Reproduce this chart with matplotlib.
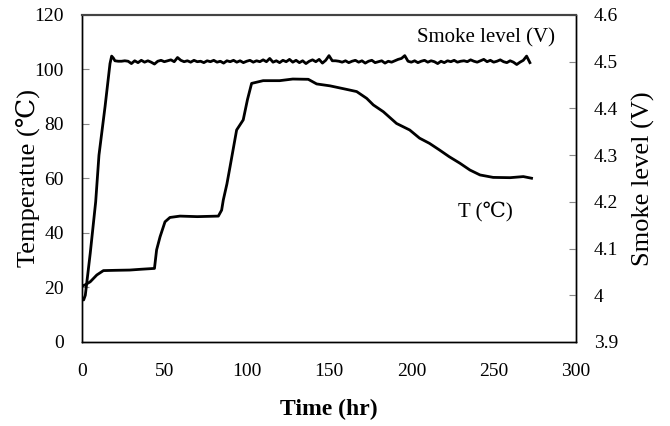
import matplotlib
matplotlib.use("Agg")
import matplotlib.pyplot as plt

# ---- data ----
temp_hr = [0, 2, 5, 9, 13, 20, 29, 36, 44, 45.3, 47.4, 50.4, 53.4, 59.5, 70, 82.8,
           84.8, 85.8, 88, 89.9, 93.9, 97.9, 100.5, 103, 110, 120, 128, 137.4, 142.5,
           150.6, 160.7, 166.8, 172.9, 176.9, 183, 191, 199, 205, 211, 217, 223,
           229.5, 235.6, 241.7, 249.7, 260, 268, 273]
temp_c = [20.5, 21.0, 22.1, 24.6, 26.2, 26.3, 26.4, 26.7, 27.0, 33.8, 38.6, 44.1, 45.7,
          46.2, 46.0, 46.2, 48.4, 52.1, 58.0, 64.3, 77.8, 81.5, 89.0, 94.9, 95.9, 95.9,
          96.5, 96.4, 94.7, 94.0, 92.7, 91.9, 89.4, 87.0, 84.5, 80.2, 77.8, 74.8, 72.9,
          70.5, 68.0, 65.6, 63.1, 61.3, 60.4, 60.3, 60.7, 60.1]

smoke_hr_rise = [0, 1, 2, 5, 8.3, 10.3, 14, 17, 18, 19]
smoke_v_rise = [3.995, 3.99, 4.0, 4.09, 4.20, 4.30, 4.404, 4.496, 4.512, 4.508]
smoke_hr_flat = list(range(20, 273, 2))
smoke_v_flat = [
    4.502, 4.501, 4.501, 4.502, 4.501, 4.496, 4.502, 4.498, 4.503, 4.499,
    4.502, 4.499, 4.495, 4.501, 4.503, 4.500, 4.502, 4.504, 4.500, 4.509,
    4.503, 4.500, 4.502, 4.499, 4.503, 4.500, 4.501, 4.498, 4.502, 4.500,
    4.503, 4.499, 4.501, 4.497, 4.502, 4.500, 4.503, 4.499, 4.502, 4.498,
    4.501, 4.503, 4.499, 4.502, 4.500, 4.504, 4.500, 4.507, 4.499, 4.502,
    4.498, 4.503, 4.500, 4.505, 4.499, 4.503, 4.498, 4.502, 4.496, 4.501,
    4.504, 4.500, 4.505, 4.497, 4.503, 4.513, 4.502, 4.502, 4.501, 4.499,
    4.502, 4.498, 4.501, 4.503, 4.499, 4.502, 4.497, 4.501, 4.503, 4.498,
    4.500, 4.502, 4.497, 4.501, 4.499, 4.502, 4.505, 4.507, 4.513, 4.501,
    4.499, 4.502, 4.498, 4.501, 4.503, 4.499, 4.502, 4.500, 4.496, 4.501,
    4.498, 4.502, 4.500, 4.503, 4.499, 4.501, 4.502, 4.500, 4.504, 4.501,
    4.499, 4.502, 4.505, 4.500, 4.503, 4.499, 4.501, 4.504, 4.500, 4.498,
    4.502, 4.499, 4.494, 4.499, 4.503, 4.512, 4.498,
]
smoke_hr = smoke_hr_rise + smoke_hr_flat
smoke_v = smoke_v_rise + smoke_v_flat

x_ticks = [0, 50, 100, 150, 200, 250, 300]
t_ticks = [0, 20, 40, 60, 80, 100, 120]
s_ticks = [3.9, 4.0, 4.1, 4.2, 4.3, 4.4, 4.5, 4.6]
s_labels = ["3.9", "4", "4.1", "4.2", "4.3", "4.4", "4.5", "4.6"]

# ---- style ----
serif = ["Liberation Serif", "DejaVu Serif", "Noto Sans CJK JP"]
plt.rcParams["font.family"] = serif

fig = plt.figure(figsize=(6.7, 4.26), dpi=100)
ax = fig.add_axes([0.1224, 0.1972, 0.7373, 0.7676])
ax2 = ax.twinx()

ax.plot(temp_hr, temp_c, color="black", lw=2.0, solid_joinstyle="round")
ax2.plot(smoke_hr, smoke_v, color="black", lw=2.0, solid_joinstyle="round")

ax.set_xlim(0, 300)
ax.set_ylim(0, 120)
ax2.set_ylim(3.9, 4.6)
ax.set_xticks(x_ticks)
ax.set_yticks(t_ticks)
ax2.set_yticks(s_ticks)
ax2.set_yticklabels(s_labels)

ax.tick_params(axis="x", length=0, pad=15, labelsize=14)
ax.tick_params(axis="y", direction="in", length=5, width=0.8, color="#888888",
               pad=13, labelsize=14)
ax2.tick_params(axis="y", direction="in", length=5, width=0.8, color="#888888",
                pad=13, labelsize=14)

for a in (ax, ax2):
    for s in a.spines.values():
        s.set_linewidth(1.0)
        s.set_color("black")
    a.spines["top"].set_color("#444444")
    a.spines["top"].set_linewidth(1.5)

ax.set_xlabel("Time (hr)", fontsize=17, fontweight="bold")
ax.set_ylabel("Temperatue (℃)", fontsize=19)
ax2.set_ylabel("Smoke level (V)", fontsize=19)
ax.xaxis.set_label_coords(0.5, -0.175)
ax.yaxis.set_label_coords(-0.085, 0.5)
ax2.yaxis.set_label_coords(1.113, 0.5)

ax.text(245.3, 111.6, "Smoke level (V)", fontsize=15, ha="center", va="center")
ax.text(245, 47.7, "T (℃)", fontsize=15, ha="center", va="center")

fig.savefig("out.png", dpi=100)
